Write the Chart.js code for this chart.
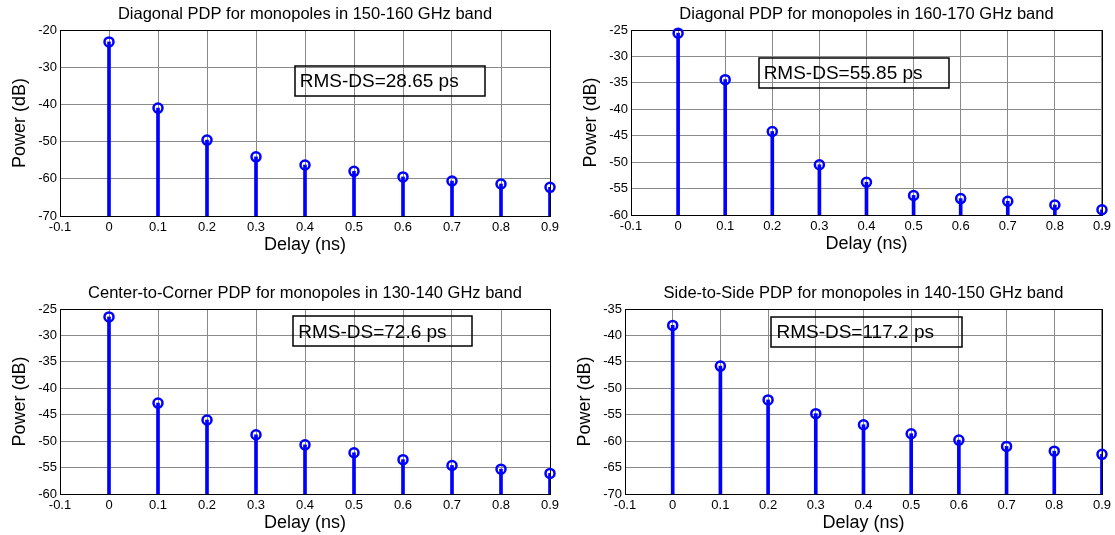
<!DOCTYPE html>
<html>
<head>
<meta charset="utf-8">
<script src="https://cdn.jsdelivr.net/npm/chart.js@4.4.0/dist/chart.umd.min.js"></script>
<style>
  body { margin: 0; background: #fff; overflow: hidden; }
  #wrap { position: relative; width: 1115px; height: 535px; overflow: hidden; }
  canvas { position: absolute; }
</style>
</head>
<body>
<div id="wrap">
  <canvas id="c1" width="575" height="268" style="left:0;top:0"></canvas>
  <canvas id="c2" width="544" height="268" style="left:571px;top:0"></canvas>
  <canvas id="c3" width="575" height="280" style="left:0;top:268px"></canvas>
  <canvas id="c4" width="550" height="280" style="left:565px;top:268px"></canvas>
</div>
<script>
// delay bins (ns)
const delays = [0, 0.1, 0.2, 0.3, 0.4, 0.5, 0.6, 0.7, 0.8, 0.9];

// power per bin (dB)
const diag150 = [-23.2, -41.0, -49.6, -54.1, -56.3, -58.0, -59.5, -60.6, -61.4, -62.3];
const diag160 = [-25.6, -34.4, -44.2, -50.5, -53.8, -56.3, -56.9, -57.4, -58.1, -59.0];
const corner130 = [-26.5, -42.8, -46.0, -48.8, -50.7, -52.2, -53.5, -54.6, -55.3, -56.1];
const side140 = [-38.1, -45.8, -52.2, -54.8, -56.9, -58.6, -59.8, -61.0, -61.9, -62.5];

const titles = [
    'Diagonal PDP for monopoles in 150-160 GHz band',
    'Diagonal PDP for monopoles in 160-170 GHz band',
    'Center-to-Corner PDP for monopoles in 130-140 GHz band',
    'Side-to-Side PDP for monopoles in 140-150 GHz band'
];
const rmsLabels = ['RMS-DS=28.65 ps', 'RMS-DS=55.85 ps', 'RMS-DS=72.6 ps', 'RMS-DS=117.2 ps'];

// axis limits
const yMin = [-70, -60, -60, -70];
const yMax = [-20, -25, -25, -35];
const yStep = [10, 5, 5, 5];
const xMin = -0.1, xMax = 0.9, xStep = 0.1;

const series = [diag150, diag160, corner130, side140];

// layout of each subplot canvas
const pads = [
    {left: 0, right: 25, top: 30, bottom: 4},
    {left: 0, right: 9, top: 30, bottom: 5},
    {left: 0, right: 25, top: 41, bottom: 6},
    {left: 0, right: 10, top: 41, bottom: 6}
];
// text box corners in data units [x1, x2, yTop, yBottom]
const boxes = [
    [0.379, 0.767, -29.6, -37.7],
    [0.171, 0.575, -30.3, -36.0],
    [0.376, 0.742, -26.4, -32.1],
    [0.207, 0.607, -36.5, -42.2]
];

const blue = '#0000ff';
const FONT = '"Liberation Sans", Arial, sans-serif';

const matlabLook = {
    id: 'matlabLook',
    beforeDatasetsDraw(chart) {
        const {ctx, chartArea: a} = chart;
        ctx.save();
        ctx.strokeStyle = '#000';
        ctx.lineWidth = 1;
        ctx.strokeRect(Math.round(a.left) + 0.5, Math.round(a.top) + 0.5,
            Math.round(a.right - a.left), Math.round(a.bottom - a.top));
        ctx.restore();
    },
    afterDatasetsDraw(chart, args, opts) {
        const {ctx, chartArea: a, scales: {x, y}} = chart;
        ctx.save();
        // title
        ctx.fillStyle = '#000';
        ctx.font = '16.5px ' + FONT;
        ctx.textAlign = 'center';
        ctx.textBaseline = 'middle';
        ctx.fillText(opts.title, (a.left + a.right) / 2, a.top - 16);
        // RMS-DS box
        const b = opts.box;
        const x1 = x.getPixelForValue(b[0]), x2 = x.getPixelForValue(b[1]);
        const y1 = y.getPixelForValue(b[2]), y2 = y.getPixelForValue(b[3]);
        ctx.lineWidth = 1.5;
        ctx.strokeStyle = '#000';
        ctx.strokeRect(Math.round(x1), Math.round(y1), Math.round(x2 - x1), Math.round(y2 - y1));
        ctx.font = '19px ' + FONT;
        ctx.textAlign = 'left';
        ctx.fillText(opts.label, x1 + 5, (y1 + y2) / 2 + 1);
        ctx.restore();
    }
};

function makePanel(i) {
    const vals = series[i];
    new Chart(document.getElementById('c' + (i + 1)), {
        type: 'bar',
        data: {
            datasets: [
                {
                    type: 'bar',
                    data: delays.map((d, k) => ({x: d, y: [yMin[i], vals[k]]})),
                    backgroundColor: blue,
                    barThickness: 3,
                    order: 2
                },
                {
                    type: 'scatter',
                    data: delays.map((d, k) => ({x: d, y: vals[k]})),
                    pointRadius: 4.5,
                    pointBorderWidth: 2.5,
                    borderColor: blue,
                    backgroundColor: 'rgba(0,0,0,0)',
                    clip: false,
                    order: 1
                }
            ]
        },
        options: {
            responsive: false,
            animation: false,
            devicePixelRatio: 1,
            layout: {padding: pads[i]},
            plugins: {
                legend: {display: false},
                tooltip: {enabled: false},
                matlabLook: {title: titles[i], label: rmsLabels[i], box: boxes[i]}
            },
            scales: {
                x: {
                    type: 'linear',
                    min: xMin,
                    max: xMax,
                    offset: false,
                    afterFit(s) { s.height = 48; },
                    grid: {color: '#8a8a8a', drawTicks: false, offset: false},
                    border: {color: '#000', width: 1},
                    ticks: {
                        stepSize: xStep,
                        autoSkip: false,
                        maxRotation: 0,
                        padding: 4,
                        color: '#000',
                        font: {family: FONT, size: 13},
                        callback: v => String(Number(v.toFixed(1)) || 0)
                    },
                    title: {
                        display: true,
                        text: 'Delay (ns)',
                        color: '#000',
                        font: {family: FONT, size: 18},
                        padding: {top: 0, bottom: 8}
                    }
                },
                y: {
                    min: yMin[i],
                    max: yMax[i],
                    afterFit(s) { s.width = 60; },
                    grid: {color: '#8a8a8a', drawTicks: false},
                    border: {color: '#000', width: 1},
                    ticks: {
                        stepSize: yStep[i],
                        padding: 3,
                        color: '#000',
                        font: {family: FONT, size: 13}
                    },
                    title: {
                        display: true,
                        text: 'Power (dB)',
                        color: '#000',
                        font: {family: FONT, size: 18},
                        padding: {top: 9, bottom: 0}
                    }
                }
            }
        },
        plugins: [matlabLook]
    });
}

for (let i = 0; i < 4; i++) makePanel(i);
</script>
</body>
</html>
